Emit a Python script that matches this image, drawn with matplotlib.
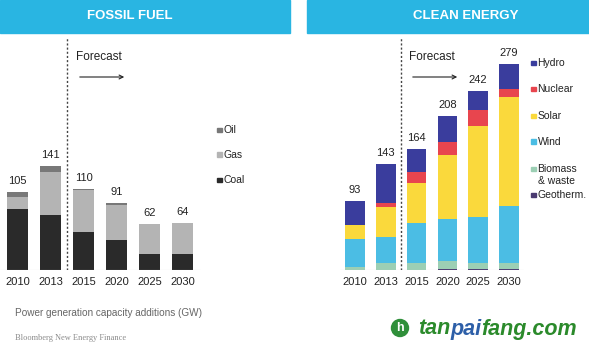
import matplotlib
matplotlib.use("Agg")
import matplotlib.pyplot as plt
from matplotlib.patches import Rectangle, Ellipse
import numpy as np

plt.rcParams['font.family'] = ['Liberation Sans', 'DejaVu Sans']

years = ["2010", "2013", "2015", "2020", "2025", "2030"]

# Fossil fuel (GW)
coal = [82, 75, 52, 40, 21, 21]
gas = [16, 58, 56, 48, 41, 42]
oil = [7, 8, 2, 3, 0.5, 1]
fossil_totals = [105, 141, 110, 91, 62, 64]

# Clean energy (GW)
geotherm = [0.5, 0.5, 0.5, 1.5, 1, 1]
biomass = [4, 9.5, 9.5, 11, 9, 8]
wind = [37, 35, 54, 56, 61, 77]
solar = [19, 40, 54, 87, 123, 148]
nuclear = [0.5, 6, 15, 18, 22, 11]
hydro = [32, 52, 31, 34, 26, 34]
clean_totals = [93, 143, 164, 208, 242, 279]

W, H = 589, 347
fig = plt.figure(figsize=(W / 100, H / 100), dpi=100)
fig.patch.set_facecolor("white")

def fx(px):
    return px / W

def fy(py):
    return 1 - py / H

SCALE = 0.74  # px per GW
BASE = 270
TOP = 38

def make_ax(left_px, right_px, c0, step):
    ax = fig.add_axes([fx(left_px), fy(BASE), (right_px - left_px) / W, (BASE - TOP) / H])
    ax.set_xlim((left_px - c0) / step, (right_px - c0) / step)
    ax.set_ylim(0, (BASE - TOP) / SCALE)
    ax.axis("off")
    return ax

# ---------- header bands ----------
fig.add_artist(Rectangle((fx(0), fy(33)), fx(290), 33 / H, color="#29b5e2", transform=fig.transFigure, zorder=0))
fig.add_artist(Rectangle((fx(307), fy(33)), fx(589 - 307), 33 / H, color="#29b5e2", transform=fig.transFigure, zorder=0))
fig.text(fx(130), fy(16), "FOSSIL FUEL", color="white", fontsize=9.5, fontweight="bold", ha="center", va="center")
fig.text(fx(466), fy(16), "CLEAN ENERGY", color="white", fontsize=9.5, fontweight="bold", ha="center", va="center")

# ---------- fossil panel ----------
axL = make_ax(0, 290, 17.5, 33)
x = np.arange(len(years))
bw = 0.64
fcols = {"Coal": "#2a2a2a", "Gas": "#b4b4b4", "Oil": "#787878"}
bottom = np.zeros(len(years))
for name, vals in [("Coal", coal), ("Gas", gas), ("Oil", oil)]:
    axL.bar(x, vals, bw, bottom=bottom, color=fcols[name], edgecolor="none")
    bottom += np.array(vals)
for i, t in enumerate(fossil_totals):
    axL.text(x[i], t + 6 / SCALE, str(t), ha="center", va="bottom", fontsize=8, color="#222222")
    axL.text(x[i], -12 / SCALE, years[i], ha="center", va="center", fontsize=8, color="#222222")
axL.hlines(0, -0.53, 5.53, color="#cccccc", lw=0.8)
axL.vlines(1.5, 0, (BASE - TOP) / SCALE, color="#444444", lw=1, linestyles=(0, (1.5, 1.5)))

# ---------- clean panel ----------
axR = make_ax(307, 589, 355, 30.8)
ccols = {"Geotherm.": "#4a3a70", "Biomass\n& waste": "#9ccfb4", "Wind": "#4bbde4",
         "Solar": "#fad93c", "Nuclear": "#e8454e", "Hydro": "#3a3d9d"}
bottom = np.zeros(len(years))
for name, vals in [("Geotherm.", geotherm), ("Biomass\n& waste", biomass), ("Wind", wind),
                   ("Solar", solar), ("Nuclear", nuclear), ("Hydro", hydro)]:
    axR.bar(x, vals, bw, bottom=bottom, color=ccols[name], edgecolor="none")
    bottom += np.array(vals)
for i, t in enumerate(clean_totals):
    axR.text(x[i], t + 6 / SCALE, str(t), ha="center", va="bottom", fontsize=8, color="#222222")
    axR.text(x[i], -12 / SCALE, years[i], ha="center", va="center", fontsize=8, color="#222222")
axR.hlines(0, -0.49, 5.45, color="#cccccc", lw=0.8)
axR.vlines(1.48, 0, (BASE - TOP) / SCALE, color="#444444", lw=1, linestyles=(0, (1.5, 1.5)))

# ---------- forecast annotations ----------
for xt in (76, 409):
    fig.text(fx(xt), fy(57), "Forecast", fontsize=8.5, color="#222222", ha="left", va="center")
    fig.add_artist(matplotlib.patches.FancyArrowPatch((fx(xt + 1), fy(77)), (fx(xt + 51), fy(77)),
                   transform=fig.transFigure, arrowstyle="->", mutation_scale=7, lw=0.8, color="#222222"))

# ---------- legends ----------
LFS = 7.5

def legend_item(xm, ym, label, color):
    fig.add_artist(Rectangle((fx(xm), fy(ym + 2)), 4.5 / W, 4.5 / H, color=color, transform=fig.transFigure))
    fig.text(fx(xm + 6.5), fy(ym), label, fontsize=LFS, color="#222222", ha="left", va="center")

legend_item(217, 130, "Oil", fcols["Oil"])
legend_item(217, 155, "Gas", fcols["Gas"])
legend_item(217, 180, "Coal", fcols["Coal"])

legend_item(531, 63, "Hydro", ccols["Hydro"])
legend_item(531, 89, "Nuclear", ccols["Nuclear"])
legend_item(531, 116, "Solar", ccols["Solar"])
legend_item(531, 142, "Wind", ccols["Wind"])
fig.add_artist(Rectangle((fx(531), fy(171)), 4.5 / W, 4.5 / H, color=ccols["Biomass\n& waste"], transform=fig.transFigure))
fig.text(fx(537.5), fy(169), "Biomass", fontsize=LFS, color="#222222", ha="left", va="center")
fig.text(fx(537.5), fy(181), "& waste", fontsize=LFS, color="#222222", ha="left", va="center")
legend_item(531, 195, "Geotherm.", ccols["Geotherm."])

# ---------- footer ----------
fig.text(fx(15), fy(313), "Power generation capacity additions (GW)", fontsize=7.2, color="#666666", ha="left", va="center")
fig.text(fx(15), fy(338), "Bloomberg New Energy Finance", fontsize=6, color="#8a8a8a", ha="left", va="center",
         family=["Liberation Serif", "DejaVu Serif"])

# watermark
fig.add_artist(Ellipse((fx(400), fy(328)), 17 / W, 17 / H, color="#2f8f3a", transform=fig.transFigure))
fig.text(fx(400), fy(328), "h", fontsize=9, color="white", fontweight="bold", ha="center", va="center")
t1 = fig.text(fx(418), fy(329), "tan", fontsize=15.5, color="#2b8a2b", fontweight="bold", style="italic", ha="left", va="center")
a1 = plt.annotate("pai", xy=(1, 0), xycoords=t1, fontsize=15.5, color="#2d5fa8", fontweight="bold", style="italic", ha="left", va="bottom")
a2 = plt.annotate("fang.com", xy=(1, 0), xycoords=a1, fontsize=15.5, color="#2b8a2b", fontweight="bold", style="italic", ha="left", va="bottom")

fig.savefig("out.png", dpi=100, facecolor="white")
